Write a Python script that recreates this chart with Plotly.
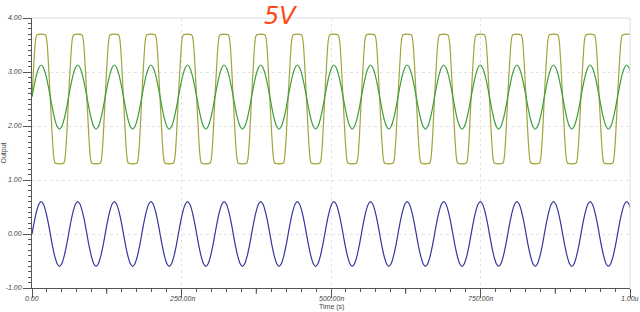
import plotly.graph_objects as go

# ---- values ----
period_ns = 61.2          # one oscillation period (ns), read from trough spacing
n_cycles = 17             # enough cycles to run past the 1.00u edge

# one-cycle shapes, phase fraction vs. output value (V)
sine_phase = [0.0, 0.0625, 0.125, 0.1875, 0.25, 0.3125, 0.375, 0.4375,
              0.5, 0.5625, 0.625, 0.6875, 0.75, 0.8125, 0.875, 0.9375]
blue_cycle = [0.00, 0.23, 0.42, 0.55, 0.60, 0.55, 0.42, 0.23,
              0.00, -0.23, -0.42, -0.55, -0.60, -0.55, -0.42, -0.23]
green_cycle = [2.54, 2.76, 2.95, 3.08, 3.13, 3.08, 2.95, 2.76,
               2.54, 2.31, 2.12, 1.99, 1.94, 1.99, 2.12, 2.31]

olive_phase = [0.0, 0.05, 0.09, 0.115, 0.14, 0.25, 0.36, 0.385, 0.41, 0.45,
               0.5, 0.55, 0.59, 0.615, 0.64, 0.75, 0.86, 0.885, 0.91, 0.95]
olive_cycle = [2.55, 3.15, 3.55, 3.66, 3.69, 3.70, 3.69, 3.66, 3.55, 3.15,
               2.50, 1.85, 1.45, 1.34, 1.31, 1.30, 1.31, 1.34, 1.45, 1.85]

x_tickvals = [0, 250, 500, 750, 1000]
x_ticktext = ["0.00", "250.00n", "500.00n", "750.00n", "1.00u"]
y_tickvals = [-1, 0, 1, 2, 3, 4]
y_ticktext = ["-1.00", "0.00", "1.00", "2.00", "3.00", "4.00"]


def tile(phases, values):
    xs, ys = [], []
    for c in range(n_cycles):
        for p, v in zip(phases, values):
            xs.append((c + p) * period_ns)
            ys.append(v)
    return xs, ys


fig = go.Figure()
for name, ph, vals, col in [
    ("olive", olive_phase, olive_cycle, "#a3a33c"),
    ("green", sine_phase, green_cycle, "#3c9e3c"),
    ("blue", sine_phase, blue_cycle, "#35359a"),
]:
    xs, ys = tile(ph, vals)
    fig.add_trace(go.Scatter(x=xs, y=ys, mode="lines", name=name,
                             line=dict(color=col, width=1.2, shape="spline", smoothing=0.9),
                             showlegend=False, hoverinfo="skip"))

FONT = "Liberation Sans, Arial, sans-serif"
tickfont = dict(family=FONT, size=7, color="#444", style="italic")

fig.update_xaxes(range=[0, 1000], tickvals=x_tickvals, showticklabels=False, automargin=False,
                 ticks="outside", ticklen=9, tickcolor="#555", tickwidth=1,
                 showline=True, linecolor="#555", linewidth=1,
                 showgrid=True, gridcolor="#e4e4e4", griddash="dot", gridwidth=1,
                 zeroline=False,
                 minor=dict(dtick=25, ticks="outside", ticklen=3, tickcolor="#555", showgrid=False))
fig.update_yaxes(range=[-1, 4], tickvals=y_tickvals, ticktext=y_ticktext, automargin=False,
                 ticks="outside", ticklen=8, tickcolor="#555", tickwidth=1,
                 showline=True, linecolor="#555", linewidth=1,
                 showgrid=True, gridcolor="#e4e4e4", griddash="dot", gridwidth=1,
                 zeroline=False, tickfont=tickfont,
                 minor=dict(dtick=0.1, ticks="outside", ticklen=3, tickcolor="#555", showgrid=False),
                 title=dict(text="Output", font=dict(family=FONT, size=7, color="#444"), standoff=2))

shapes = [
    dict(type="line", xref="paper", yref="paper", x0=0, x1=1, y0=1, y1=1, line=dict(color="#dcdcdc", width=1)),
    dict(type="line", xref="paper", yref="paper", x0=1, x1=1, y0=0, y1=1, line=dict(color="#dcdcdc", width=1)),
]
for xv in [125, 375, 625, 875]:
    shapes.append(dict(type="line", xref="x domain", yref="y domain", x0=xv / 1000, x1=xv / 1000,
                       y0=0, y1=-6 / 270, line=dict(color="#555", width=1)))

annotations = [
    dict(text="5V", xref="paper", yref="paper", x=(280 - 32) / 598, y=(288 - 0) / 270,
         showarrow=False, xanchor="center", yanchor="top",
         font=dict(family="DejaVu Sans, sans-serif", size=24, color="#ff4a14", style="italic")),
    dict(text="Time (s)", xref="paper", yref="paper", x=0.5, y=-24 / 270,
         showarrow=False, xanchor="center", yanchor="bottom", borderpad=0,
         font=dict(family=FONT, size=7, color="#444")),
]
for xv, xt in zip(x_tickvals, x_ticktext):
    annotations.append(dict(text=xt, xref="x", yref="paper", x=xv, y=-10.5 / 270,
                            showarrow=False, xanchor="center", yanchor="middle", borderpad=0,
                            font=tickfont))

fig.update_layout(
    width=640, height=312,
    margin=dict(l=32, r=10, t=18, b=24),
    paper_bgcolor="white", plot_bgcolor="white",
    shapes=shapes,
    annotations=annotations,
)

fig.write_html("out.html")
